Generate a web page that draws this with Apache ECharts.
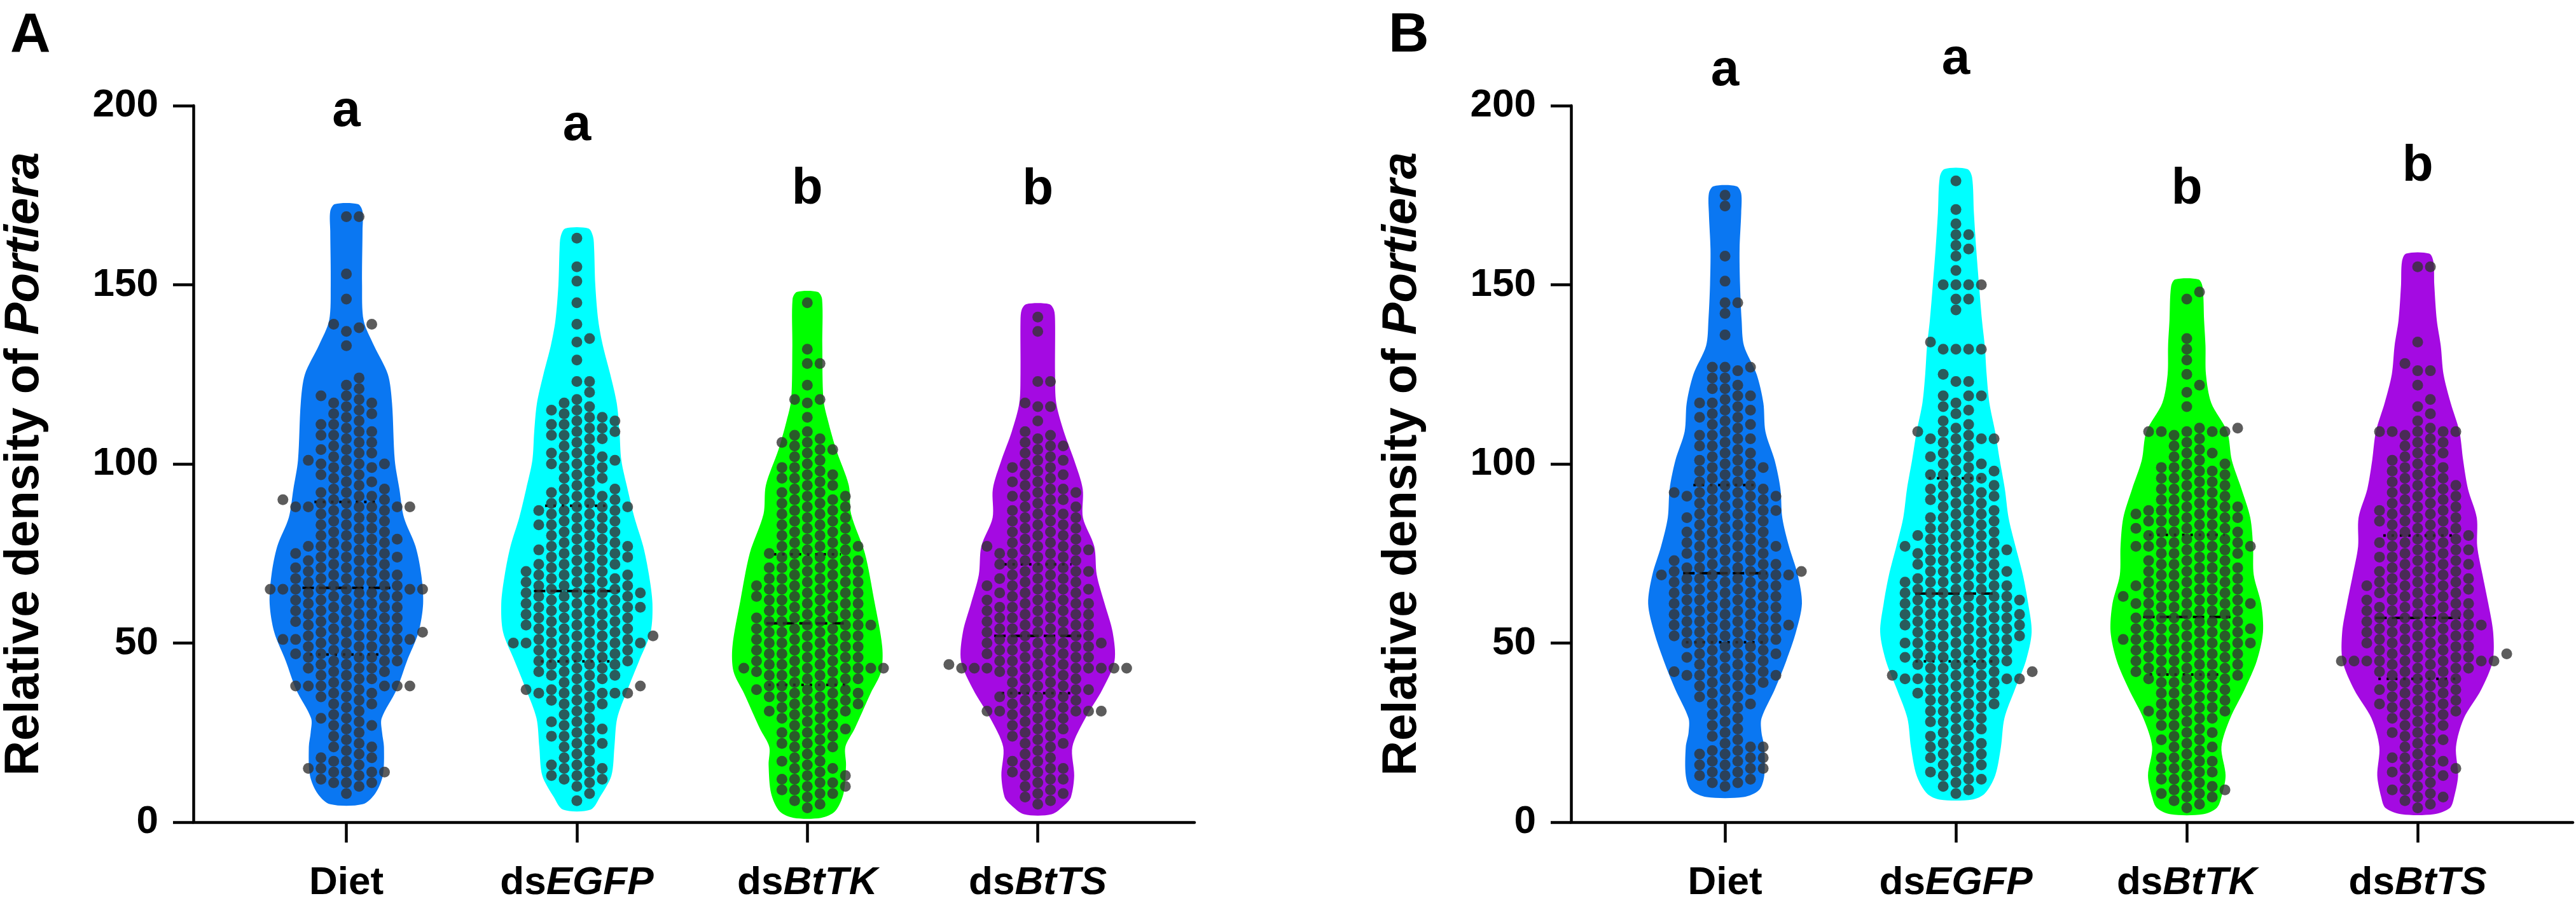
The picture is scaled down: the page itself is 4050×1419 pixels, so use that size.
<!DOCTYPE html>
<html>
<head>
<meta charset="utf-8">
<script src="https://cdn.jsdelivr.net/npm/echarts@6/dist/echarts.min.js"></script>
<style>
  html, body { margin: 0; padding: 0; background: #fff; }
  #main { width: 4050px; height: 1419px; }
</style>
</head>
<body>
<div id="main"></div>
<script>
// 分组名称
var categories = ['Diet', 'dsEGFP', 'dsBtTK', 'dsBtTS'];
var colors = ['#0a77f2', '#00ffff', '#00ff00', '#a40ae2'];

// 图 A 各组数值
var dietA = [169,169,153,146,139,139,138,137,133,
  124,122,121,
  119,119,118,117,117,116,115,114,114,113,112,111,111,110,
  109,109,108,108,107,106,106,105,104,104,103,103,102,101,101,100,100,100,
  99,99,98,97,97,96,95,95,94,93,93,92,92,91,91,90,90,90,
  89,89,88,88,88,88,88,88,87,87,86,86,85,85,84,84,83,83,82,82,81,81,80,80,
  79,79,79,78,78,77,77,77,76,76,75,75,75,74,74,74,73,73,73,72,72,71,71,71,70,70,70,
  69,69,69,68,68,68,67,67,67,66,66,66,65,65,65,65,65,65,65,64,64,64,63,63,63,62,62,62,61,61,61,60,60,60,
  59,59,59,58,58,58,57,57,57,56,56,56,55,55,55,54,54,54,53,53,53,52,52,52,51,51,51,51,51,51,50,50,
  49,49,49,48,48,48,47,47,47,46,46,46,45,45,45,44,44,43,43,43,42,42,41,41,40,40,
  39,38,38,38,38,38,38,38,37,36,36,35,35,34,33,33,32,31,30,
  29,29,28,27,27,26,25,24,23,22,21,21,20,
  19,18,18,17,17,16,15,15,14,14,14,14,13,12,11,11,11,10,
  8];
var egfpA = [163,155,151,145,139,135,134,129,123,123,120,
  118,117,116,115,115,114,113,113,112,112,111,111,110,110,
  109,109,108,108,107,107,106,105,104,103,103,102,102,101,101,100,100,
  99,99,98,97,96,96,95,94,93,93,92,92,91,91,90,90,
  89,89,88,88,88,87,87,87,86,86,85,85,84,84,83,83,83,82,82,81,81,80,80,
  79,79,78,78,77,77,77,76,76,76,75,75,74,74,74,73,73,72,72,72,71,71,70,70,70,
  69,69,69,68,68,68,67,67,67,66,66,66,65,65,65,64,64,64,64,63,63,63,62,62,62,61,61,61,60,60,60,60,
  59,59,59,58,58,58,57,57,57,56,56,56,55,55,55,54,54,54,53,53,53,52,52,52,51,51,51,50,50,50,50,50,50,
  49,49,48,48,48,47,47,47,46,46,45,45,45,44,44,44,43,43,42,42,41,41,41,40,40,
  39,38,38,37,37,37,36,36,36,36,36,35,34,34,33,33,32,31,30,
  29,28,28,27,26,26,25,24,24,23,22,22,21,20,
  19,18,17,16,16,15,15,14,13,13,12,12,11,10,
  8,6];
var tkA = [145,132,128,128,122,118,118,117,113,
  109,108,107,106,106,105,104,104,103,102,101,100,
  99,99,98,97,97,96,96,95,94,94,93,92,92,91,91,90,90,
  89,89,88,88,87,87,86,86,85,85,84,84,83,83,82,82,81,81,80,80,
  79,79,78,78,77,77,77,76,76,75,75,75,74,74,73,73,73,72,72,71,71,71,70,70,70,
  69,69,68,68,68,67,67,67,66,66,66,65,65,65,64,64,64,63,63,63,62,62,62,61,61,61,60,60,
  59,59,59,58,58,58,57,57,57,56,56,56,55,55,55,55,54,54,54,53,53,53,52,52,52,51,51,51,50,50,50,
  49,49,49,48,48,48,47,47,47,46,46,46,45,45,45,44,44,44,43,43,43,43,43,43,42,42,42,41,41,41,40,40,40,
  39,39,38,38,38,37,37,37,36,36,36,35,35,35,34,34,33,33,33,32,32,31,31,31,30,30,
  29,29,28,27,27,26,26,25,25,24,24,23,22,22,21,21,20,
  19,18,17,17,16,15,15,14,13,13,12,12,11,11,10,10,
  9,9,8,8,7,6,5,4];
var tsA = [141,137,123,123,117,116,116,112,
  109,108,107,106,105,105,104,103,102,101,101,100,
  99,99,98,97,97,96,95,95,94,93,93,92,92,91,91,90,90,
  89,88,88,87,87,86,86,85,85,84,84,83,83,82,82,81,81,80,80,
  79,79,78,78,77,77,77,76,76,76,75,75,75,74,74,73,73,72,72,72,71,71,70,70,70,
  69,69,68,68,68,67,67,66,66,66,65,65,65,64,64,64,63,63,62,62,62,61,61,61,60,60,60,
  59,59,59,58,58,58,57,57,57,56,56,56,55,55,55,54,54,54,53,53,53,52,52,52,51,51,51,50,50,50,50,
  49,49,49,48,48,48,47,47,47,46,46,46,45,45,45,44,44,44,43,43,43,43,43,43,43,43,43,42,42,42,41,41,40,40,
  39,39,38,38,37,37,37,36,36,35,35,35,34,34,33,33,32,32,31,31,31,31,31,31,30,30,
  29,29,28,27,27,26,26,25,24,24,23,22,22,21,20,
  19,18,17,17,16,15,15,14,14,13,12,12,11,10,
  9,8,8,7,6,5];

// 图 B 各组数值
var dietB = [175,172,158,151,145,145,142,136,
  127,127,127,126,124,124,122,121,121,
  119,119,118,117,117,116,115,115,114,113,113,112,111,111,110,
  109,108,108,107,107,106,105,105,104,103,103,102,101,101,100,100,
  99,99,98,98,97,97,96,95,95,94,94,93,93,92,92,92,91,91,91,91,90,90,
  89,89,88,88,87,87,87,86,86,85,85,85,84,84,83,83,82,82,81,81,81,80,80,
  79,79,78,78,78,77,77,77,76,76,75,75,75,74,74,73,73,73,72,72,72,71,71,71,70,70,70,70,
  69,69,69,69,69,68,68,68,67,67,67,66,66,66,65,65,65,64,64,64,63,63,63,62,62,62,61,61,61,60,60,60,
  59,59,59,58,58,58,57,57,57,56,56,56,55,55,55,55,54,54,54,53,53,53,52,52,52,51,51,51,50,50,50,
  49,49,48,48,47,47,47,46,46,46,45,45,44,44,43,43,42,42,42,41,41,41,41,40,40,
  39,39,38,38,37,37,36,35,35,34,33,33,32,31,30,
  29,28,27,26,25,24,23,22,21,21,20,20,
  19,19,18,18,17,17,16,16,15,15,14,14,13,13,12,11,11,10];
var egfpB = [179,171,167,164,164,161,160,158,154,150,150,150,150,146,146,143,134,132,132,132,132,125,123,123,119,119,119,115,
  117,116,114,112,111,110,
  109,109,108,107,107,107,107,106,105,104,103,102,102,101,100,100,
  99,98,98,97,97,96,96,95,94,94,93,93,92,92,91,91,90,90,
  89,89,88,87,87,86,86,85,85,84,84,83,83,82,82,81,81,80,80,80,
  79,79,78,78,77,77,77,76,76,76,75,75,75,74,74,73,73,72,72,72,71,71,70,70,70,
  69,69,68,68,68,67,67,67,66,66,66,65,65,65,64,64,64,63,63,63,62,62,62,62,61,61,61,60,60,60,
  59,59,59,58,58,58,58,57,57,57,56,56,56,55,55,55,55,54,54,54,53,53,53,52,52,52,51,51,51,50,50,50,50,
  49,49,48,48,48,47,47,47,46,46,46,45,45,45,44,44,44,43,43,42,42,42,41,41,41,40,40,40,40,40,40,
  39,39,38,38,37,37,36,36,36,35,35,34,34,33,33,32,32,31,31,30,
  29,29,28,28,27,26,26,25,24,24,23,22,22,21,21,20,
  19,19,18,18,17,16,16,15,14,14,13,12,12,11,10,
  9,8];
var tkB = [148,146,135,132,129,125,122,120,116,
  110,110,109,109,109,109,109,108,107,106,105,104,103,103,102,101,100,100,
  99,99,98,98,97,97,96,96,95,95,94,94,93,93,92,92,91,91,90,90,
  89,89,88,88,88,87,87,87,86,86,86,85,85,85,84,84,84,83,83,82,82,82,81,81,81,80,80,80,
  79,79,78,78,78,77,77,77,77,77,76,76,75,75,75,74,74,73,73,73,72,72,71,71,71,70,70,70,
  69,69,68,68,68,67,67,67,66,66,66,65,65,65,64,64,64,63,63,63,62,62,62,61,61,61,61,61,60,60,
  59,59,59,58,58,58,57,57,57,56,56,56,55,55,55,54,54,54,54,53,53,53,52,52,52,51,51,51,51,50,50,50,50,
  49,49,49,48,48,48,47,47,47,46,46,46,45,45,45,44,44,44,43,43,43,42,42,42,41,41,41,40,40,40,
  39,39,38,38,37,37,36,36,35,35,34,34,33,33,32,32,31,31,31,30,30,
  29,29,28,27,27,26,25,25,24,23,23,22,21,21,20,
  19,18,18,17,17,16,15,15,14,14,13,12,12,11,10,10,
  9,9,8,8,7,7,6,5,4];
var tsB = [155,155,134,128,126,126,122,118,116,114,112,
  110,109,109,109,109,109,108,107,106,106,105,104,103,103,102,101,101,100,
  99,99,98,98,97,96,96,95,95,94,94,93,93,92,92,91,91,90,90,
  89,89,88,88,87,87,87,86,86,85,85,84,84,84,83,83,82,82,81,81,80,80,80,
  79,79,78,78,78,77,77,76,76,76,75,75,74,74,74,73,73,72,72,72,71,71,70,70,70,
  69,69,68,68,68,67,67,67,66,66,66,65,65,65,64,64,64,63,63,62,62,62,61,61,61,60,60,60,
  59,59,59,58,58,58,57,57,57,56,56,56,55,55,55,55,54,54,54,53,53,53,52,52,52,51,51,51,50,50,50,
  49,49,49,48,48,48,47,47,47,46,46,46,45,45,45,45,45,45,45,45,44,44,43,43,43,42,42,42,41,41,40,40,
  39,39,38,38,37,37,37,36,36,35,35,34,34,33,33,33,32,32,31,31,30,30,
  29,29,28,27,27,26,25,25,24,23,23,22,21,20,
  19,18,18,17,17,16,15,15,14,14,13,13,12,11,10,
  9,9,8,7,7,6,5,4];

// 小提琴轮廓：[数值, 半宽(按x轴单位)]
var shapeDietA = [[5,0.07],[8,0.125],[13,0.158],[21,0.163],[25,0.155],[29,0.153],[37,0.218],[45,0.263],[53,0.313],[61,0.333],[69,0.325],[77,0.30],[85,0.25],[93,0.23],[101,0.21],[117,0.198],[125,0.18],[133,0.12],[140,0.075],[150,0.068],[165,0.07],[170.5,0.07],[172.5,0.05]];
var shapeEgfpA = [[3.5,0.06],[7,0.1],[13,0.15],[21,0.163],[29,0.175],[37,0.22],[45,0.27],[53,0.32],[61,0.328],[69,0.313],[77,0.288],[85,0.25],[93,0.22],[101,0.193],[109,0.185],[117,0.173],[125,0.145],[133,0.113],[140,0.093],[150,0.08],[160,0.075],[163.5,0.07],[165.7,0.05]];
var shapeTkA = [[1.2,0.06],[3,0.12],[8,0.157],[16,0.168],[21,0.165],[26,0.205],[36,0.275],[42,0.32],[49,0.325],[62,0.29],[75,0.25],[86,0.19],[94,0.18],[104,0.125],[112,0.09],[118,0.07],[133,0.065],[146,0.064],[148,0.045]];
var shapeTsA = [[2.2,0.06],[5,0.12],[7,0.144],[13,0.158],[21,0.15],[29,0.206],[37,0.28],[45,0.333],[53,0.325],[61,0.29],[69,0.256],[77,0.245],[85,0.196],[93,0.195],[101,0.158],[109,0.113],[117,0.08],[125,0.075],[140,0.075],[143,0.07],[144.6,0.05]];
var shapeDietB = [[7,0.08],[9,0.148],[13,0.17],[21,0.17],[25,0.158],[29,0.158],[37,0.215],[45,0.265],[53,0.307],[61,0.333],[69,0.315],[77,0.277],[85,0.248],[93,0.24],[101,0.215],[109,0.175],[117,0.166],[125,0.137],[133,0.082],[140,0.072],[150,0.065],[160,0.063],[170,0.07],[175.5,0.07],[177.5,0.05]];
var shapeEgfpB = [[6.3,0.07],[8,0.125],[13,0.17],[21,0.195],[29,0.21],[37,0.255],[45,0.303],[53,0.328],[61,0.313],[69,0.29],[77,0.258],[85,0.228],[93,0.212],[101,0.19],[109,0.17],[117,0.145],[125,0.133],[133,0.125],[140,0.113],[150,0.1],[160,0.088],[170,0.078],[180,0.07],[182.3,0.05]];
var shapeTkB = [[2.2,0.07],[4,0.13],[7,0.15],[13,0.168],[21,0.15],[29,0.188],[37,0.25],[45,0.303],[53,0.33],[61,0.322],[69,0.29],[77,0.287],[85,0.275],[93,0.237],[101,0.195],[109,0.175],[117,0.106],[125,0.083],[133,0.081],[140,0.075],[149.5,0.068],[151.5,0.05]];
var shapeTsB = [[2.2,0.07],[4,0.14],[7,0.158],[13,0.175],[21,0.166],[29,0.2],[37,0.275],[45,0.325],[53,0.327],[61,0.306],[69,0.281],[77,0.258],[85,0.256],[93,0.218],[101,0.197],[109,0.181],[117,0.143],[125,0.112],[133,0.1],[140,0.083],[150,0.072],[156.5,0.068],[158.7,0.05]];

// 四分位线：[Q1, 中位数, Q3]
var quartA = [[46.8,65.4,89.4],[44.9,64.5,88.3],[38.3,55.5,74.8],[36,52,72]];
var quartB = [[50.2,69.5,94.1],[44.9,63.8,96],[41.2,57.3,80.2],[40,57,80]];

// 显著性字母及其基线高度
var lettersA = ['a','a','b','b'];
var letterYA = [193.3,189.4,171.6,171.5];
var lettersB = ['a','a','b','b'];
var letterYB = [204.6,207.8,171.6,178.0];

var FONT = '"Liberation Sans", Arial, Helvetica, sans-serif';

var panels = [
  { label: 'A', values: [dietA, egfpA, tkA, tsA], shapes: [shapeDietA, shapeEgfpA, shapeTkA, shapeTsA],
    quart: quartA, letters: lettersA, letterY: letterYA,
    grid: { left: 301, top: 166, width: 1577, height: 1128 }, xMin: 0.336, xMax: 4.68, labelX: 16 },
  { label: 'B', values: [dietB, egfpB, tkB, tsB], shapes: [shapeDietB, shapeEgfpB, shapeTkB, shapeTsB],
    quart: quartB, letters: lettersB, letterY: letterYB,
    grid: { left: 2470, top: 166, width: 1575, height: 1128 }, xMin: 0.333, xMax: 4.672, labelX: 2183 }
];

var DOT = 17;        // 点直径
var COL_GAP = 20;    // 列间距(px)
var MIN_GAP = 16.5;  // 同列点最小竖直间距(px)

// 类 Prism 的列式散点排布
function swarm(values, center, xPx, yPx) {
  var sorted = values.slice().sort(function (a, b) { return a - b; });
  var last = {};
  var pts = [];
  sorted.forEach(function (v) {
    var y = v * yPx;
    for (var k = 0; ; k++) {
      var col = k === 0 ? 0 : (k % 2 ? (k + 1) / 2 : -k / 2);
      if (last[col] === undefined || y - last[col] >= MIN_GAP) {
        last[col] = y;
        pts.push([center + col * COL_GAP / xPx, v]);
        break;
      }
    }
  });
  return pts;
}

function halfWidthAt(prof, v) {
  for (var i = 1; i < prof.length; i++) {
    if (v <= prof[i][0]) {
      var a = prof[i - 1], b = prof[i];
      return a[1] + (b[1] - a[1]) * (v - a[0]) / (b[0] - a[0]);
    }
  }
  return 0;
}

function catLabel(name) {
  if (name.indexOf('ds') === 0) return '{n|ds}{i|' + name.slice(2) + '}';
  return '{n|' + name + '}';
}

var grids = [], xAxes = [], yAxes = [], series = [], graphics = [];
var catData = [[1, 0], [2, 0], [3, 0], [4, 0]];

panels.forEach(function (panel, p) {
  grids.push(panel.grid);
  var axisLineStyle = { color: '#000', width: 4.5 };
  xAxes.push({
    gridIndex: p, type: 'value', min: panel.xMin, max: panel.xMax,
    axisLine: { onZero: false, lineStyle: axisLineStyle },
    axisTick: { show: true, customValues: [1, 2, 3, 4], length: 32, lineStyle: axisLineStyle },
    axisLabel: {
      customValues: [1, 2, 3, 4], margin: 65,
      formatter: function (v) { return catLabel(categories[Math.round(v) - 1]); },
      rich: {
        n: { fontSize: 62, fontWeight: 'bold', fontFamily: FONT, color: '#000' },
        i: { fontSize: 62, fontWeight: 'bold', fontStyle: 'italic', fontFamily: FONT, color: '#000' }
      }
    },
    splitLine: { show: false }
  });
  yAxes.push({
    gridIndex: p, type: 'value', min: 0, max: 200, interval: 50,
    axisLine: { show: true, onZero: false, lineStyle: axisLineStyle },
    axisTick: { show: true, length: 32, lineStyle: axisLineStyle },
    axisLabel: { fontSize: 62, fontWeight: 'bold', fontFamily: FONT, color: '#000', margin: 55 },
    splitLine: { show: false },
    name: 'Relative density of {i|Portiera}',
    nameLocation: 'middle', nameGap: 227, nameRotate: 90,
    nameTextStyle: {
      fontSize: 76, fontWeight: 'bold', fontFamily: FONT, color: '#000',
      rich: { i: { fontSize: 76, fontWeight: 'bold', fontStyle: 'italic', fontFamily: FONT, color: '#000' } }
    }
  });

  // 小提琴
  series.push({
    type: 'custom', xAxisIndex: p, yAxisIndex: p, z: 1, silent: true, clip: false,
    data: catData, encode: { x: 0, y: 1 },
    renderItem: function (params, api) {
      var g = params.dataIndex, prof = panel.shapes[g], cx = g + 1, pts = [];
      prof.forEach(function (s) { pts.push(api.coord([cx - s[1], s[0]])); });
      for (var i = prof.length - 1; i >= 0; i--) pts.push(api.coord([cx + prof[i][1], prof[i][0]]));
      return { type: 'polygon', shape: { points: pts, smooth: 0.3 }, style: { fill: colors[g] } };
    }
  });

  // 中位数与四分位线
  series.push({
    type: 'custom', xAxisIndex: p, yAxisIndex: p, z: 2, silent: true, clip: false,
    data: catData, encode: { x: 0, y: 1 },
    renderItem: function (params, api) {
      var g = params.dataIndex, cx = g + 1, q = panel.quart[g], kids = [];
      q.forEach(function (v, j) {
        var hw = halfWidthAt(panel.shapes[g], v) * 0.58;
        var a = api.coord([cx - hw, v]), b = api.coord([cx + hw, v]);
        kids.push({
          type: 'line', shape: { x1: a[0], y1: a[1], x2: b[0], y2: b[1] },
          style: { stroke: '#000', lineWidth: 4, lineDash: j === 1 ? [18, 8] : [4, 9] }
        });
      });
      return { type: 'group', children: kids };
    }
  });

  // 散点
  var xPx = panel.grid.width / (panel.xMax - panel.xMin);
  var yPx = panel.grid.height / 200;
  panel.values.forEach(function (vals, g) {
    series.push({
      type: 'scatter', xAxisIndex: p, yAxisIndex: p, z: 3, silent: true,
      symbol: 'circle', symbolSize: DOT,
      itemStyle: { color: '#333333' },
      data: swarm(vals, g + 1, xPx, yPx)
    });
  });

  // 显著性字母
  series.push({
    type: 'custom', xAxisIndex: p, yAxisIndex: p, z: 4, silent: true, clip: false,
    data: catData, encode: { x: 0, y: 1 },
    renderItem: function (params, api) {
      var g = params.dataIndex;
      var pt = api.coord([g + 1, panel.letterY[g]]);
      return {
        type: 'text', x: pt[0], y: pt[1] + 12,
        style: { text: panel.letters[g], fontSize: 80, fontWeight: 'bold', fontFamily: FONT,
                 fill: '#000', align: 'center', verticalAlign: 'bottom' }
      };
    }
  });

  graphics.push({
    type: 'text', left: panel.labelX, top: 13,
    style: { text: panel.label, fontSize: 88, fontWeight: 'bold', fontFamily: FONT, fill: '#000' }
  });
});

var chart = echarts.init(document.getElementById('main'));
chart.setOption({
  animation: false,
  backgroundColor: '#fff',
  grid: grids,
  xAxis: xAxes,
  yAxis: yAxes,
  series: series,
  graphic: graphics
});
</script>
</body>
</html>
